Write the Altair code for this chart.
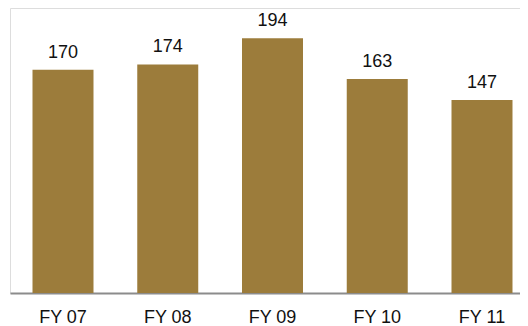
import altair as alt
import pandas as pd

years = ["FY 07", "FY 08", "FY 09", "FY 10", "FY 11"]
values = [170, 174, 194, 163, 147]

df = pd.DataFrame({"year": years, "value": values})

FONT = "Liberation Sans"
BAR = "#9c7c3b"

x = alt.X(
    "year:N",
    sort=years,
    scale=alt.Scale(paddingInner=0.4177, paddingOuter=0.1432, align=0.75),
    axis=alt.Axis(
        title=None,
        labelAngle=0,
        labelFont=FONT,
        labelFontSize=18,
        labelColor="#111111",
        labelPadding=15,
        ticks=False,
        domainColor="#8c8c8c",
        domainWidth=2,
        grid=False,
    ),
)
y = alt.Y("value:Q", scale=alt.Scale(domain=[0, 217], nice=False), axis=None)

bars = alt.Chart(df).mark_bar(color=BAR).encode(x=x, y=y)
labels = alt.Chart(df).mark_text(
    baseline="bottom", dy=-8, font=FONT, fontSize=18, color="#111111"
).encode(x=x, y=y, text="value:Q")

chart = (
    alt.layer(bars, labels)
    .properties(
        width=510,
        height=285,
        autosize=alt.AutoSizeParams(type="none"),
        padding={"left": 2, "right": 0, "top": 0, "bottom": 33},
    )
    .configure_view(stroke=None)
    .configure(background="white")
)

chart.save("out.html", embed_options={"renderer": "svg", "actions": False})
